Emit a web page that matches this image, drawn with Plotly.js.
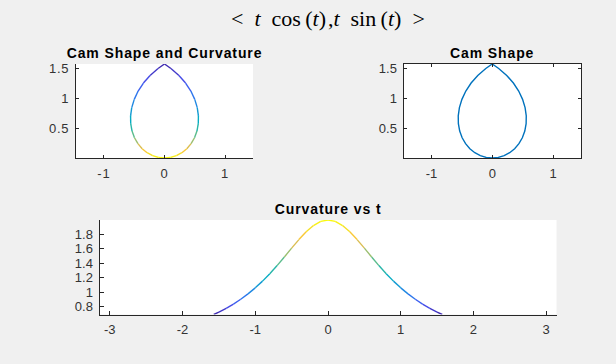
<!DOCTYPE html>
<html>
<head>
<meta charset="utf-8">
<script src="https://cdn.plot.ly/plotly-3.0.1.min.js"></script>
<style>
  html, body { margin: 0; padding: 0; background: #F0F0F0; }
  #fig { width: 616px; height: 364px; }
  .xtick text, .ytick text { letter-spacing: 0.8px; }
  .sub-title text { letter-spacing: 0.9px; }
</style>
</head>
<body>
<div id="fig"></div>
<script>
// Cam profile r(t) = <t cos t, t sin t> sampled for t in [-pi/2, pi/2]
const tValues = [-1.5708, -1.5, -1.4, -1.3, -1.2, -1.1, -1.0, -0.9, -0.8, -0.7, -0.6, -0.5, -0.4, -0.3, -0.2, -0.1,
                 0, 0.1, 0.2, 0.3, 0.4, 0.5, 0.6, 0.7, 0.8, 0.9, 1.0, 1.1, 1.2, 1.3, 1.4, 1.5, 1.5708];
const camX = [0.0000, -0.1061, -0.2380, -0.3478, -0.4348, -0.4990, -0.5403, -0.5595, -0.5574, -0.5354, -0.4952, -0.4388, -0.3684, -0.2866, -0.1960, -0.0995,
              0.0000, 0.0995, 0.1960, 0.2866, 0.3684, 0.4388, 0.4952, 0.5354, 0.5574, 0.5595, 0.5403, 0.4990, 0.4348, 0.3478, 0.2380, 0.1061, 0.0000];
const camY = [1.5708, 1.4962, 1.3796, 1.2526, 1.1185, 0.9803, 0.8415, 0.7050, 0.5739, 0.4510, 0.3388, 0.2397, 0.1558, 0.0887, 0.0397, 0.0100,
              0.0000, 0.0100, 0.0397, 0.0887, 0.1558, 0.2397, 0.3388, 0.4510, 0.5739, 0.7050, 0.8415, 0.9803, 1.1185, 1.2526, 1.3796, 1.4962, 1.5708];
const curvature = [0.6919, 0.7254, 0.7776, 0.8364, 0.9026, 0.9770, 1.0607, 1.1540, 1.2570, 1.3691, 1.4880, 1.6100, 1.7289, 1.8366, 1.9235, 1.9802,
                   2.0000, 1.9802, 1.9235, 1.8366, 1.7289, 1.6100, 1.4880, 1.3691, 1.2570, 1.1540, 1.0607, 0.9770, 0.9026, 0.8364, 0.7776, 0.7254, 0.6919];

// Axis tick labels
const camXTicks = [-1, 0, 1];
const camXTickText = ['-1', '0', '1'];
const camYTicks = [0.5, 1, 1.5];
const camYTickText = ['0.5', '1', '1.5'];
const tTicks = [-3, -2, -1, 0, 1, 2, 3];
const tTickText = ['-3', '-2', '-1', '0', '1', '2', '3'];
const curvTicks = [0.8, 1, 1.2, 1.4, 1.6, 1.8];
const curvTickText = ['0.8', '1', '1.2', '1.4', '1.6', '1.8'];

// parula-like colormap
const parula = [
  [0.00, [62, 38, 168]], [0.10, [70, 80, 240]], [0.20, [42, 122, 236]], [0.30, [20, 150, 215]],
  [0.40, [6, 174, 193]], [0.50, [51, 184, 161]], [0.60, [113, 191, 128]], [0.70, [188, 190, 96]],
  [0.80, [251, 188, 64]], [0.90, [245, 222, 40]], [1.00, [249, 251, 14]]
];
function cmap(v) {
  v = Math.max(0, Math.min(1, v));
  for (let i = 1; i < parula.length; i++) {
    if (v <= parula[i][0]) {
      const [a, ca] = parula[i - 1], [b, cb] = parula[i];
      const f = (v - a) / (b - a);
      const c = ca.map((q, j) => Math.round(q + f * (cb[j] - q)));
      return `rgb(${c[0]},${c[1]},${c[2]})`;
    }
  }
  const c = parula[parula.length - 1][1];
  return `rgb(${c[0]},${c[1]},${c[2]})`;
}

const kMin = Math.min(...curvature), kMax = Math.max(...curvature);
const traces = [];

// Colored segments: cam shape (subplot 1) and curvature vs t (subplot 3)
for (let i = 0; i < tValues.length - 1; i++) {
  const col = cmap(((curvature[i] + curvature[i + 1]) / 2 - kMin) / (kMax - kMin));
  traces.push({
    type: 'scatter', mode: 'lines', xaxis: 'x', yaxis: 'y',
    x: [camX[i], camX[i + 1]], y: [camY[i], camY[i + 1]],
    line: { color: col, width: 1.4 }, hoverinfo: 'skip', showlegend: false
  });
  traces.push({
    type: 'scatter', mode: 'lines', xaxis: 'x3', yaxis: 'y3',
    x: [tValues[i], tValues[i + 1]], y: [curvature[i], curvature[i + 1]],
    line: { color: col, width: 1.4 }, hoverinfo: 'skip', showlegend: false
  });
}

// Plain cam shape (subplot 2)
traces.push({
  type: 'scatter', mode: 'lines', xaxis: 'x2', yaxis: 'y2',
  x: camX, y: camY, line: { color: '#0072BD', width: 1.4 }, showlegend: false
});

const W = 616, H = 364;
const px = v => v / W;
const py = v => 1 - v / H;
const axColor = '#262626';
const tickFont = { family: 'Liberation Sans, Arial, sans-serif', size: 13, color: '#333333' };

function axis(domain, range, vals, text, extra) {
  return Object.assign({
    domain: domain, range: range, tickmode: 'array', tickvals: vals, ticktext: text,
    showline: true, linecolor: axColor, linewidth: 1, ticks: 'inside', ticklen: 3,
    tickcolor: axColor, tickwidth: 1, showgrid: false, zeroline: false,
    tickfont: tickFont, fixedrange: true
  }, extra || {});
}

const layout = {
  width: W, height: H,
  margin: { l: 0, r: 0, t: 0, b: 0 },
  paper_bgcolor: '#F0F0F0', plot_bgcolor: '#FFFFFF',
  showlegend: false,
  xaxis: axis([px(76), px(253)], [-1.46, 1.46], camXTicks, camXTickText, { anchor: 'y', ticklabelstandoff: 3 }),
  yaxis: axis([py(158), py(64)], [0, 1.5708], camYTicks, camYTickText, { anchor: 'x', ticklabelstandoff: 3 }),
  xaxis2: axis([px(403.5), px(581)], [-1.46, 1.46], camXTicks, camXTickText, { anchor: 'y2', mirror: 'ticks', ticklabelstandoff: 3 }),
  yaxis2: axis([py(158), py(64)], [0, 1.5708], camYTicks, camYTickText, { anchor: 'x2', mirror: 'ticks', ticklabelstandoff: 3 }),
  xaxis3: axis([px(99.5), px(556.5)], [-3.1416, 3.1416], tTicks, tTickText, { anchor: 'y3', ticklen: 4, ticklabelstandoff: 3 }),
  yaxis3: axis([py(314.5), py(220)], [0.6919, 2.0], curvTicks, curvTickText, { anchor: 'x3', ticklen: 4, ticklabelstandoff: 3 }),
  annotations: [
    { text: '<\u2002<i>t</i>\u2002cos\u2009(<i>t</i>)\u200A,<i>t</i>\u2002sin\u2009(<i>t</i>)\u2002>', xref: 'paper', yref: 'paper',
      x: px(328), y: py(18), xanchor: 'center', yanchor: 'middle', showarrow: false,
      font: { family: 'Liberation Serif, Times New Roman, serif', size: 22, color: '#000000' } },
    { text: '<b>Cam Shape and Curvature</b>', xref: 'paper', yref: 'paper',
      x: px(164.5), y: py(53), xanchor: 'center', yanchor: 'middle', showarrow: false,
      font: { family: 'Liberation Sans, Arial, sans-serif', size: 14, color: '#000000' } },
    { text: '<b>Cam Shape</b>', xref: 'paper', yref: 'paper',
      x: px(492), y: py(53), xanchor: 'center', yanchor: 'middle', showarrow: false,
      font: { family: 'Liberation Sans, Arial, sans-serif', size: 14, color: '#000000' } },
    { text: '<b>Curvature vs t</b>', xref: 'paper', yref: 'paper',
      x: px(328), y: py(208.5), xanchor: 'center', yanchor: 'middle', showarrow: false,
      font: { family: 'Liberation Sans, Arial, sans-serif', size: 14, color: '#000000' } }
  ]
};

Plotly.newPlot('fig', traces, layout, { staticPlot: true, displayModeBar: false }).then(() => {
  document.querySelectorAll('.annotation').forEach((g, i) => { if (i > 0) g.classList.add('sub-title'); });
});
</script>
</body>
</html>
